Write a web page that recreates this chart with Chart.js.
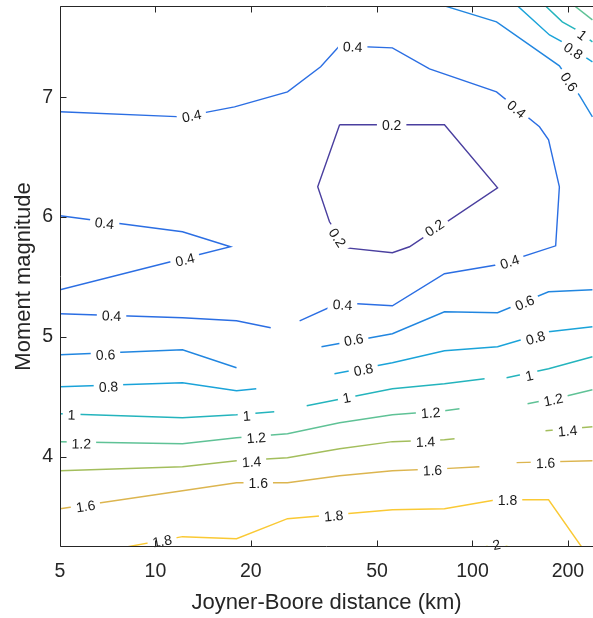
<!DOCTYPE html>
<html>
<head>
<meta charset="utf-8">
<script src="https://cdn.jsdelivr.net/npm/chart.js@4.4.1/dist/chart.umd.min.js"></script>
<style>
html, body { margin: 0; padding: 0; background: #fff; }
</style>
</head>
<body>
<canvas id="myChart" width="593" height="618"></canvas>
<script>
var FONT = '"Liberation Sans", Arial, Helvetica, sans-serif';

var levels = [0.2, 0.4, 0.6, 0.8, 1, 1.2, 1.4, 1.6, 1.8, 2];
var levelColors = ['#4a3f9f', '#2b6ee3', '#2186e0', '#1aa3d9', '#24b4bd',
                   '#5fc296', '#a3be5c', '#dcb54f', '#fac934', '#f3e71d'];

var xTicks = [5, 10, 20, 50, 100, 200];
var yTicks = [4, 5, 6, 7];

// contour segments, [distance km, magnitude]
var c02 = [
  [[38.1,6.77],[81.6,6.77],[120,6.244],[63.3,5.753],[55.9,5.703],[40.1,5.744],[35.4,5.961],[32.5,6.253],[38.1,6.77]]
];
var c04 = [
  [[5,6.878],[12.17,6.836],[17.76,6.919],[26.1,7.044],[33.2,7.253],[38.1,7.428],[55.9,7.411],[73.2,7.236],
   [119.1,7.044],[162.7,6.753],[173.8,6.644],[188,6.253],[183,5.761],[120,5.603],[81.6,5.528],[55.9,5.261],
   [38.1,5.286],[28.5,5.136]],
  [[5,5.194],[12.17,5.161],[18.02,5.136],[23.1,5.078]],
  [[5,6.011],[12.17,5.878],[17.25,5.753],[12.17,5.653],[5,5.394]]
];
var c06 = [
  [[81.6,7.761],[119.1,7.628],[188,7.261],[218,7.011],[239,6.836]],
  [[33.4,4.919],[55.9,5.028],[81.6,5.211],[120,5.203],[173.8,5.378],[239,5.394]],
  [[5,4.853],[12.17,4.894],[18.02,4.744]]
];
var c08 = [
  [[138.8,7.761],[175,7.519],[192,7.461],[239,7.294]],
  [[36.7,4.694],[55.9,4.786],[81.6,4.886],[120,4.919],[173.8,5.044],[239,5.086]],
  [[5,4.586],[12.17,4.619],[18.02,4.553],[20.8,4.569]]
];
var c10 = [
  [[170,7.761],[192,7.628],[213,7.561],[239,7.461]],
  [[30.0,4.428],[55.9,4.569],[81.6,4.611],[109.2,4.653]],
  [[128.1,4.661],[173.8,4.736],[239,4.836]],
  [[5,4.361],[12.17,4.328],[18.02,4.353],[23.7,4.378]]
];
var c12 = [
  [[210,7.761],[239,7.644]],
  [[5,4.128],[12.17,4.111],[18.02,4.161],[26.1,4.194],[38.1,4.286],[55.9,4.353],[81.6,4.386],[91.0,4.403]],
  [[149.2,4.444],[199.5,4.511],[239,4.561]]
];
var c14 = [
  [[5,3.886],[12.17,3.919],[18.02,3.969],[26.1,3.994],[38.1,4.069],[55.9,4.128],[81.6,4.144],[87.8,4.153]],
  [[170,4.219],[239,4.253]]
];
var c16 = [
  [[5,3.569],[12.17,3.719],[18.02,3.786],[26.1,3.786],[38.1,3.844],[55.9,3.886],[81.6,3.903],[105.2,3.919]],
  [[137.8,3.953],[239,3.969]]
];
var c18 = [
  [[8.11,3.25],[12.17,3.336],[18.02,3.319],[26.1,3.486],[55.9,3.561],[81.6,3.569],[119.1,3.644],[173.8,3.644],[221,3.25]]
];
var c20 = [
  [[109,3.25],[119,3.272],[131,3.25]]
];

// inline label positions
var lab02 = [[55.6,6.77],[75.9,5.911],[37.5,5.828]];
var lab04 = [[13.0,6.844],[41.9,7.42],[137.8,6.90],[131,5.628],[38.9,5.27],[7.27,5.178],[6.91,5.95],[12.4,5.645]];
var lab06 = [[202,7.128],[42.2,4.978],[146,5.286],[6.96,4.853]];
var lab08 = [[208,7.386],[45.3,4.728],[158,4.994],[7.11,4.586]];
var lab10 = [[222,7.519],[40.1,4.494],[151,4.678],[5.44,4.353],[19.4,4.344]];
var lab12 = [[5.84,4.111],[20.8,4.161],[73.8,4.369],[180,4.478]];
var lab14 = [[20.1,3.961],[71.1,4.128],[199.5,4.219]];
var lab16 = [[6.02,3.59],[21.1,3.78],[74.8,3.89],[170,3.95]];
var lab18 = [[10.5,3.30],[36.5,3.51],[129,3.64]];
var lab20 = [[119,3.27]];

var contours = [c02, c04, c06, c08, c10, c12, c14, c16, c18, c20];
var labels = [lab02, lab04, lab06, lab08, lab10, lab12, lab14, lab16, lab18, lab20];

var datasets = [];
contours.forEach(function(segs, i) {
    segs.forEach(function(seg) {
        datasets.push({
            data: seg.map(function(p) { return {x: p[0], y: p[1]}; }),
            borderColor: levelColors[i],
            borderWidth: 1.4,
            pointRadius: 0,
            showLine: true,
            fill: false,
            tension: 0
        });
    });
});

var labelPlugin = {
    id: 'contourLabels',
    afterDatasetsDraw: function(chart) {
        var ctx = chart.ctx, xs = chart.scales.x, ys = chart.scales.y;
        ctx.save();
        ctx.font = '14px ' + FONT;
        ctx.textAlign = 'center';
        ctx.textBaseline = 'middle';
        labels.forEach(function(list, i) {
            var txt = String(levels[i]);
            list.forEach(function(p) {
                var px = xs.getPixelForValue(p[0]), py = ys.getPixelForValue(p[1]);
                var best = 1e12, ang = 0;
                contours[i].forEach(function(seg) {
                    for (var k = 0; k < seg.length - 1; k++) {
                        var ax = xs.getPixelForValue(seg[k][0]), ay = ys.getPixelForValue(seg[k][1]);
                        var bx = xs.getPixelForValue(seg[k+1][0]), by = ys.getPixelForValue(seg[k+1][1]);
                        var dx = bx - ax, dy = by - ay, L = dx*dx + dy*dy;
                        var t = L ? ((px-ax)*dx + (py-ay)*dy) / L : 0;
                        t = Math.max(0, Math.min(1, t));
                        var qx = ax + t*dx - px, qy = ay + t*dy - py, d = qx*qx + qy*qy;
                        if (d < best) { best = d; ang = Math.atan2(dy, dx); }
                    }
                });
                if (ang > Math.PI/2) ang -= Math.PI;
                if (ang < -Math.PI/2) ang += Math.PI;
                var w = ctx.measureText(txt).width;
                ctx.save();
                ctx.translate(px, py);
                ctx.rotate(ang);
                ctx.fillStyle = '#fff';
                ctx.fillRect(-w/2 - 5, -6, w + 10, 12);
                ctx.fillStyle = '#1a1a1a';
                ctx.fillText(txt, 0, 1);
                ctx.restore();
            });
        });
        ctx.restore();
    }
};

var framePlugin = {
    id: 'frame',
    afterDraw: function(chart) {
        var ctx = chart.ctx, a = chart.chartArea, xs = chart.scales.x, ys = chart.scales.y;
        var L = Math.round(a.left) + 0.5, T = Math.round(a.top) + 0.5, B = Math.round(a.bottom) - 0.5;
        ctx.save();
        ctx.strokeStyle = '#262626';
        ctx.lineWidth = 1;
        ctx.beginPath();
        ctx.moveTo(a.right, T); ctx.lineTo(L, T); ctx.lineTo(L, B); ctx.lineTo(a.right, B);
        xTicks.forEach(function(v) {
            var x = Math.round(xs.getPixelForValue(v)) + 0.5;
            ctx.moveTo(x, B); ctx.lineTo(x, B - 6);
            ctx.moveTo(x, T); ctx.lineTo(x, T + 6);
        });
        yTicks.forEach(function(v) {
            var y = Math.round(ys.getPixelForValue(v)) + 0.5;
            ctx.moveTo(L, y); ctx.lineTo(L + 6, y);
        });
        ctx.stroke();
        ctx.restore();
    }
};

var ctx = document.getElementById('myChart').getContext('2d');
var chart = new Chart(ctx, {
    type: 'scatter',
    data: { datasets: datasets },
    plugins: [labelPlugin, framePlugin],
    options: {
        responsive: false,
        animation: false,
        layout: { padding: { top: 6, right: 0, left: 0, bottom: 0 } },
        plugins: { legend: { display: false }, tooltip: { enabled: false } },
        scales: {
            x: {
                type: 'logarithmic',
                min: 5,
                max: 240,
                afterBuildTicks: function(s) { s.ticks = xTicks.map(function(v) { return {value: v}; }); },
                afterFit: function(s) { s.height = 71; s.paddingLeft = 0; s.paddingRight = 0; },
                grid: { display: false, drawTicks: false },
                border: { display: false },
                ticks: {
                    color: '#262626', font: { family: FONT, size: 19.5 }, padding: 13,
                    maxRotation: 0, autoSkip: false,
                    callback: function(v) { return String(v); }
                },
                title: {
                    display: true, text: 'Joyner-Boore distance (km)', color: '#262626',
                    font: { family: FONT, size: 22 }, padding: { top: 0, bottom: 2 }
                }
            },
            y: {
                min: 3.25,
                max: 7.76,
                afterBuildTicks: function(s) { s.ticks = yTicks.map(function(v) { return {value: v}; }); },
                afterFit: function(s) { s.width = 60; s.paddingTop = 0; s.paddingBottom = 0; },
                grid: { display: false, drawTicks: false },
                border: { display: false },
                ticks: {
                    color: '#262626', font: { family: FONT, size: 19.5 }, padding: 7,
                    callback: function(v) { return String(v); }
                },
                title: {
                    display: true, text: 'Moment magnitude', color: '#262626',
                    font: { family: FONT, size: 22 }, padding: { top: 11, bottom: 0 }
                }
            }
        }
    }
});
</script>
</body>
</html>
